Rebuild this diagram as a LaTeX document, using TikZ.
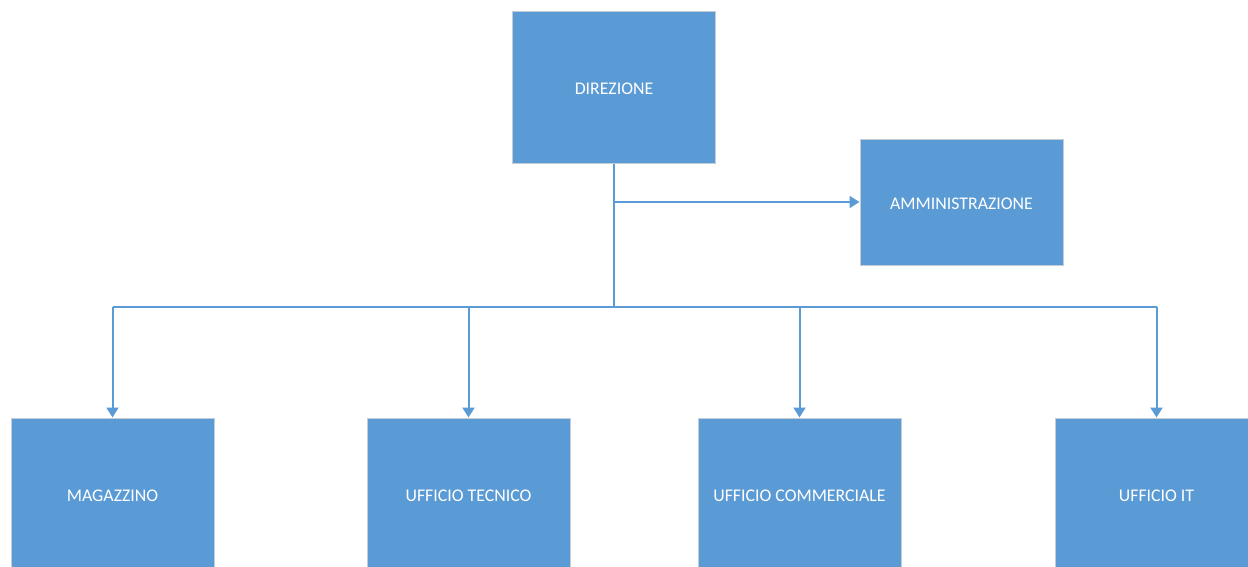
\documentclass[tikz,border=0pt]{standalone}
\usepackage{fontspec}
\setmainfont{Carlito}
\usetikzlibrary{arrows.meta}
\definecolor{boxblue}{HTML}{5B9BD5}
\definecolor{boxedge}{HTML}{C4CCD6}
\tikzset{
  unit/.style={rectangle, fill=boxblue, draw=boxedge, line width=1pt,
    minimum width=203pt, minimum height=152pt, inner sep=0pt,
    text height=15.6pt, text depth=0pt,
    text=white, font=\fontsize{17.8}{20}\selectfont},
  link/.style={draw=boxblue, line width=2pt},
  arrowlink/.style={link, -{Triangle[width=12pt,length=10pt]}}
}
\begin{document}
\begin{tikzpicture}[x=1pt, y=-1pt]
  \clip (0,0) rectangle (1248,566);
  \fill[white] (0,0) rectangle (1248,566);

  % boxes
  \node[unit] (dir) at (614,87) {DIREZIONE};
  \node[unit, minimum height=126pt] (amm) at (961.5,202) {AMMINISTRAZIONE};
  \node[unit] (mag) at (112.5,494) {MAGAZZINO};
  \node[unit] (tec) at (468.5,494) {UFFICIO TECNICO};
  \node[unit] (com) at (799.5,494) {UFFICIO COMMERCIALE};
  \node[unit] (it)  at (1156.5,494) {UFFICIO IT};

  % bus line
  \coordinate (bus) at (614,306.5);

  % trunk and branch
  \draw[link] (dir.south) -- (bus);
  \draw[arrowlink] (dir.south |- amm.west) -- (amm.west);
  \draw[link] (mag.north |- bus) -- (it.north |- bus);

  % drops to the departments
  \draw[arrowlink] (mag.north |- bus) -- (mag.north);
  \draw[arrowlink] (tec.north |- bus) -- (tec.north);
  \draw[arrowlink] (com.north |- bus) -- (com.north);
  \draw[arrowlink] (it.north |- bus) -- (it.north);
\end{tikzpicture}
\end{document}
